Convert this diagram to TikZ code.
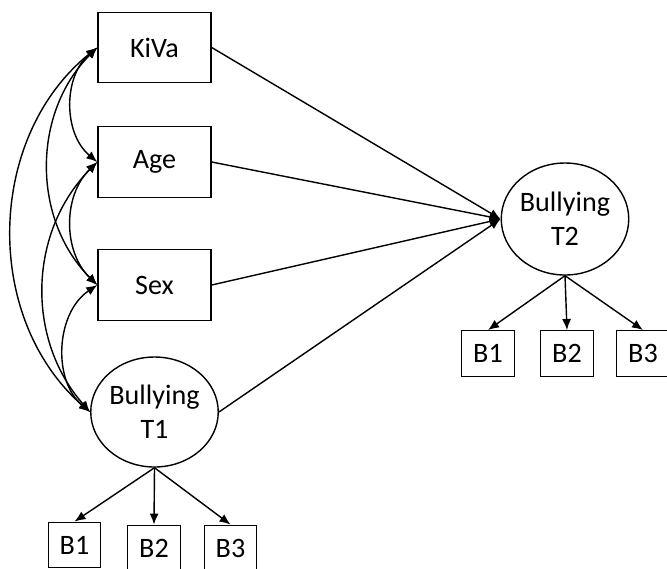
\documentclass[tikz,border=0pt]{standalone}
\usepackage{fontspec}
\setmainfont{Carlito}
\usepackage{tikz}
\usetikzlibrary{shapes.geometric, arrows, arrows.meta, positioning}
\tikzstyle{obsvar} = [rectangle, minimum width=2.26cm, minimum height=1.41cm, text centered, draw=black, line width=0.8pt]
\tikzstyle{latent} = [ellipse, minimum width=2.5cm, minimum height=2.2cm, inner sep=0pt, text centered, align=center, draw=black, line width=0.8pt]
\tikzstyle{item} = [rectangle, minimum width=1.05cm, minimum height=0.91cm, text centered, draw=black, line width=0.8pt]
\tikzstyle{arrow} = [line width=0.8pt,->,>={Latex[length=2.2mm,width=1.8mm]}]
\tikzstyle{covar} = [line width=0.8pt,<->,>={Latex[length=2.2mm,width=1.8mm]}, bend right=50]

\begin{document}
\begin{tikzpicture}[font=\fontsize{16}{19.5}\selectfont]
\useasboundingbox (0,0) rectangle (13.34,-11.36);

% Predictors at T1
\node (kiva) [obsvar] at (3.09,-0.95) {KiVa};
\node (age) [obsvar] at (3.09,-3.24) {Age};
\node (sex) [obsvar] at (3.09,-5.70) {Sex};
\node (bullyT1) [latent] at (3.09,-8.24) {Bullying\\T1};

% Outcome at T2
\node (bullyT2) [latent, minimum width=2.48cm, minimum height=2.24cm] at (11.30,-4.38) {Bullying\\T2};

% Indicators
\node (t1b1) [item] at (1.49,-10.90) {B1};
\node (t1b2) [item] at (3.08,-10.96) {B2};
\node (t1b3) [item] at (4.61,-10.96) {B3};
\node (t2b1) [item] at (9.76,-7.07) {B1};
\node (t2b2) [item] at (11.34,-7.07) {B2};
\node (t2b3) [item] at (12.86,-7.07) {B3};

% Regression paths
\draw [arrow] (kiva.east) -- (bullyT2.west);
\draw [arrow] (age.east) -- (bullyT2.west);
\draw [arrow] (sex.east) -- (bullyT2.west);
\draw [arrow] (bullyT1.east) -- (bullyT2.west);

% Covariances
\draw [covar] (kiva.west) to (age.west);
\draw [covar, bend right=45] (kiva.west) to (sex.west);
\draw [covar, bend right=50] (kiva.west) to (bullyT1.west);
\draw [covar, bend right=46] (age.west) to (sex.west);
\draw [covar, bend right=43] (age.west) to (bullyT1.west);
\draw [covar, bend right=53] (sex.west) to (bullyT1.west);

% Measurement paths
\draw [arrow] (bullyT1.south) -- (t1b1.north);
\draw [arrow] (bullyT1.south) -- (t1b2.north);
\draw [arrow] (bullyT1.south) -- (t1b3.north);
\draw [arrow] (bullyT2.south) -- (t2b1.north);
\draw [arrow] (bullyT2.south) -- (t2b2.north);
\draw [arrow] (bullyT2.south) -- (t2b3.north);

\end{tikzpicture}
\end{document}
